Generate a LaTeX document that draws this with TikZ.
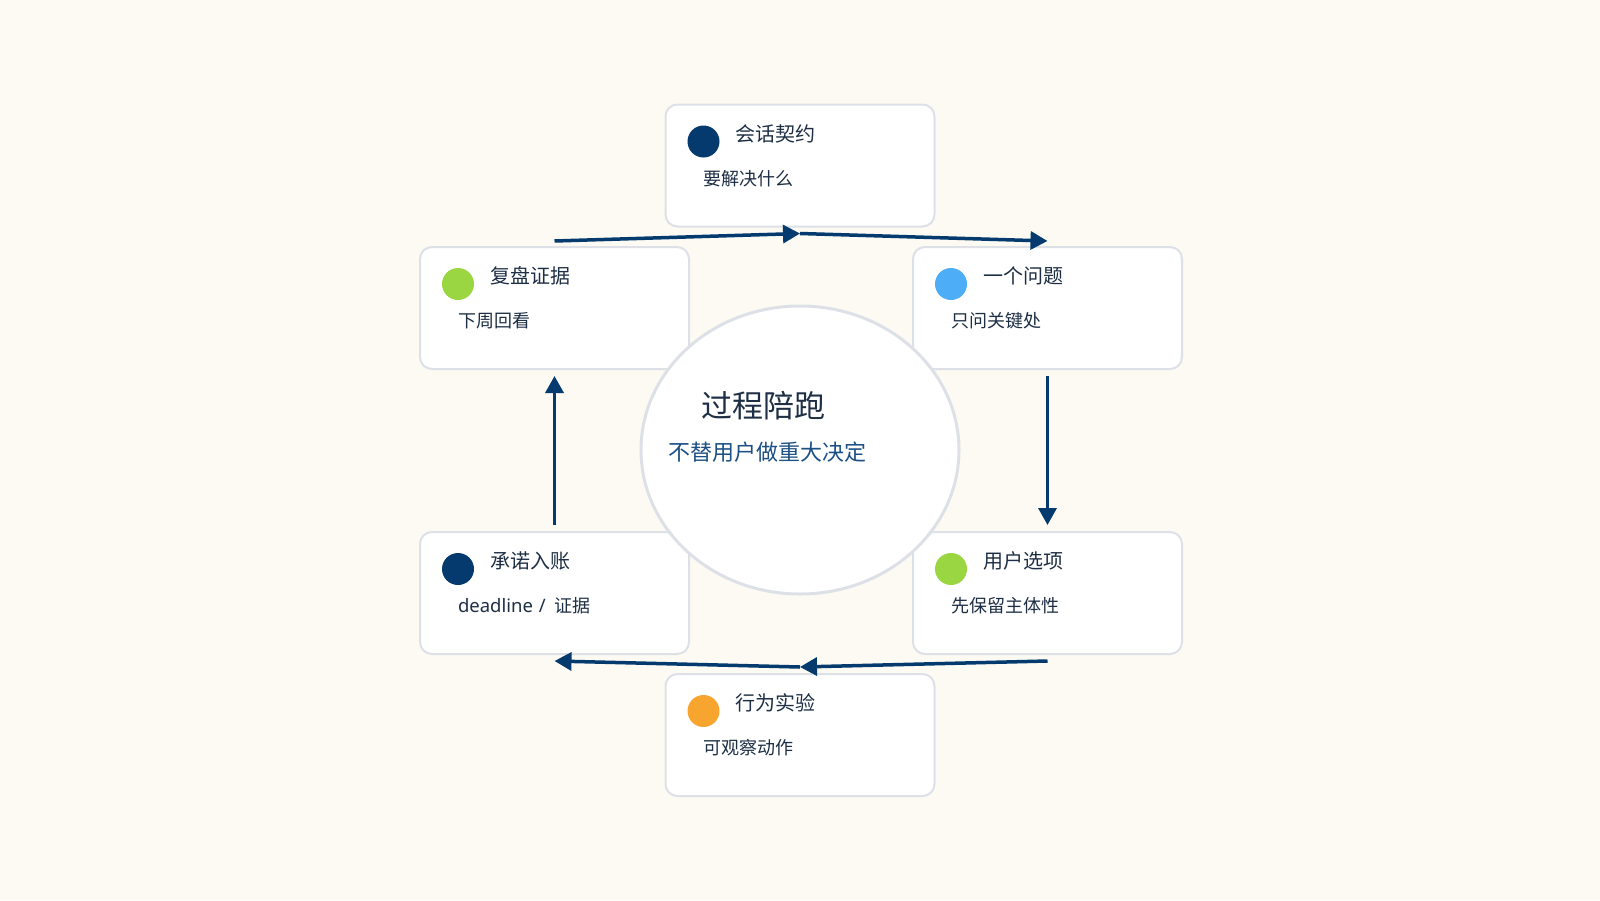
\documentclass[tikz,border=0pt]{standalone}
\usepackage{fontspec}
\newfontfamily\cjk{Noto Sans CJK SC}
\newfontfamily\latin{Noto Sans}
\usepackage{tikz}
\usetikzlibrary{positioning, shapes, arrows.meta}

\definecolor{bgcream}{HTML}{FCFAF3}
\definecolor{cardline}{HTML}{DDE1E7}
\definecolor{navy}{HTML}{053A6E}
\definecolor{skyblue}{HTML}{4DADF7}
\definecolor{lime}{HTML}{9AD641}
\definecolor{amber}{HTML}{F7A52E}
\definecolor{inkdark}{HTML}{1E2F45}
\definecolor{inkblue}{HTML}{1B4F85}

\begin{document}
\begin{tikzpicture}[x=1pt, y=-1pt, node distance=163pt and 224pt,
    every node/.style={font=\cjk, outer sep=0pt},
    card/.style={draw=cardline, line width=2pt, rounded corners=12pt, fill=white, minimum width=269pt, minimum height=122pt, inner sep=0pt},
    dot/.style={circle, inner sep=0pt, minimum size=32pt},
    cardtitle/.style={anchor=west, inner sep=0pt, text=inkdark, font=\cjk\fontsize{20}{22}\selectfont},
    cardsub/.style={anchor=west, inner sep=0pt, text=inkdark, font=\cjk\fontsize{18}{20}\selectfont},
    flow/.style={draw=navy, line width=3.5pt, -{Triangle[length=17pt, width=18pt]}}]
        % Background
        \fill[bgcream] (0,0) rectangle (1600,900);

        % Cards
        \node (TL) [card] at (554.5,308) {};
        \node (TR) [card, right=of TL] {};
        \node (BL) [card, below=of TL] {};
        \node (BR) [card, below=of TR] {};
        \node (Top) [card] at (800,165.5) {};
        \node (Bot) [card] at (800,735) {};

        % Card contents
        \node (TopDot) [dot, fill=navy] at ([shift={(38,37)}]Top.north west) {};
        \node (TopTitle) [cardtitle] at ([shift={(70,29)}]Top.north west) {会话契约};
        \node (TopSub) [cardsub] at ([shift={(38,74)}]Top.north west) {要解决什么};

        \node (TRDot) [dot, fill=skyblue] at ([shift={(38,37)}]TR.north west) {};
        \node (TRTitle) [cardtitle] at ([shift={(70,29)}]TR.north west) {一个问题};
        \node (TRSub) [cardsub] at ([shift={(38,74)}]TR.north west) {只问关键处};

        \node (BRDot) [dot, fill=lime] at ([shift={(38,37)}]BR.north west) {};
        \node (BRTitle) [cardtitle] at ([shift={(70,29)}]BR.north west) {用户选项};
        \node (BRSub) [cardsub] at ([shift={(38,74)}]BR.north west) {先保留主体性};

        \node (BotDot) [dot, fill=amber] at ([shift={(38,37)}]Bot.north west) {};
        \node (BotTitle) [cardtitle] at ([shift={(70,29)}]Bot.north west) {行为实验};
        \node (BotSub) [cardsub] at ([shift={(38,74)}]Bot.north west) {可观察动作};

        \node (BLDot) [dot, fill=navy] at ([shift={(38,37)}]BL.north west) {};
        \node (BLTitle) [cardtitle] at ([shift={(70,29)}]BL.north west) {承诺入账};
        \node (BLSub) [cardsub] at ([shift={(38,74)}]BL.north west) {{\latin\fontsize{18.5}{20}\selectfont deadline\hspace{6pt}/\hspace{9pt}}证据};

        \node (TLDot) [dot, fill=lime] at ([shift={(38,37)}]TL.north west) {};
        \node (TLTitle) [cardtitle] at ([shift={(70,29)}]TL.north west) {复盘证据};
        \node (TLSub) [cardsub] at ([shift={(38,74)}]TL.north west) {下周回看};

        % Hub
        \node (Hub) [draw=cardline, line width=3pt, fill=white, ellipse, minimum width=318pt, minimum height=288pt, inner sep=0pt] at (800,450) {};
        \node (HubTitle) [anchor=west, inner sep=0pt, text=inkdark, font=\cjk\fontsize{31}{34}\selectfont] at ([shift={(-99,-44)}]Hub.center) {过程陪跑};
        \node (HubSub) [anchor=west, inner sep=0pt, text=inkblue, font=\cjk\fontsize{22}{25}\selectfont] at ([shift={(-132,2)}]Hub.center) {不替用户做重大决定};

        % Arrows
        \coordinate (TopMid) at ([shift={(0,7)}]Top.south);
        \coordinate (BotMid) at ([shift={(0,-7)}]Bot.north);
        \draw[flow] ([shift={(0,-6)}]TL.north) -- (TopMid);
        \draw[flow] (TopMid) -- ([shift={(0,-6)}]TR.north);
        \draw[flow] ([shift={(0,7)}]TR.south) -- ([shift={(0,-7)}]BR.north);
        \draw[flow] ([shift={(0,7)}]BR.south) -- (BotMid);
        \draw[flow] (BotMid) -- ([shift={(0,7)}]BL.south);
        \draw[flow] ([shift={(0,-7)}]BL.north) -- ([shift={(0,7)}]TL.south);
    \end{tikzpicture}
\end{document}
